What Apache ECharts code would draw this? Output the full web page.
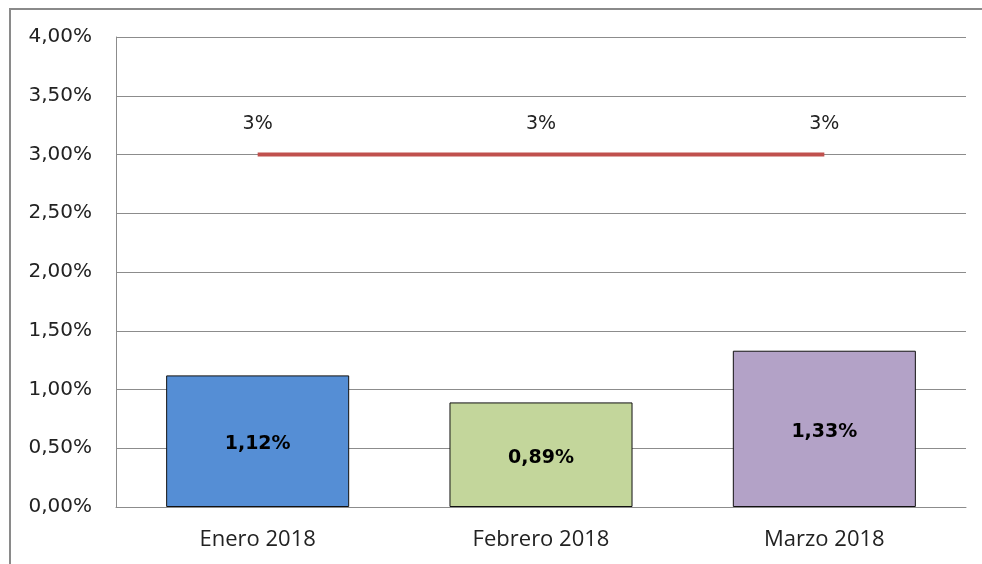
<!DOCTYPE html>
<html>
<head>
<meta charset="utf-8">
<script src="https://cdn.jsdelivr.net/npm/echarts@6/dist/echarts.min.js"></script>
<style>
html, body { margin: 0; padding: 0; background: #fff; }
#chart { width: 982px; height: 564px; }
</style>
</head>
<body>
<div id="chart"></div>
<script>
var categories = ['Enero 2018', 'Febrero 2018', 'Marzo 2018'];
var barValues = [1.12, 0.89, 1.33];
var targetValues = [3, 3, 3];
var barColors = ['#558ed5', '#c3d69b', '#b3a2c7'];

function fmtPct(v) {
	return v.toFixed(2).replace('.', ',') + '%';
}

var chart = echarts.init(document.getElementById('chart'));

var option = {
	animation: false,
	backgroundColor: '#fff',
	graphic: [{
		type: 'rect',
		shape: { x: 10, y: 9, width: 1000, height: 600 },
		style: { fill: 'none', stroke: '#8a8a8a', lineWidth: 2 },
		silent: true
	}],
	grid: { left: 116, right: 16, top: 37, bottom: 57 },
	xAxis: {
		type: 'category',
		data: categories,
		axisLine: { lineStyle: { color: '#8c8c8c', width: 1 } },
		axisTick: { show: false },
		axisLabel: {
			color: '#222',
			fontFamily: 'Open Sans',
			fontSize: 22,
			margin: 22
		}
	},
	yAxis: {
		type: 'value',
		min: 0,
		max: 4,
		interval: 0.5,
		axisLine: { show: true, lineStyle: { color: '#8c8c8c', width: 1 } },
		axisTick: { show: false },
		splitLine: { lineStyle: { color: '#8c8c8c', width: 1 } },
		axisLabel: {
			color: '#222',
			fontFamily: 'DejaVu Sans',
			fontSize: 20,
			margin: 24,
			formatter: fmtPct
		}
	},
	series: [{
		type: 'bar',
		barWidth: '64.6%',
		data: barValues.map(function (v, i) {
			return {
				value: v,
				itemStyle: { color: barColors[i], borderColor: '#111', borderWidth: 1 }
			};
		}),
		label: {
			show: true,
			position: 'inside',
			offset: [0, 3],
			color: '#000',
			fontFamily: 'DejaVu Sans',
			fontWeight: 'bold',
			fontSize: 19,
			formatter: function (p) { return fmtPct(p.value); }
		}
	}, {
		type: 'line',
		data: targetValues,
		symbol: 'circle',
		symbolSize: 1,
		itemStyle: { color: 'rgba(0,0,0,0)' },
		lineStyle: { color: '#c0504d', width: 4 },
		label: {
			show: true,
			position: 'top',
			distance: 20,
			color: '#222',
			fontFamily: 'DejaVu Sans',
			fontSize: 19,
			formatter: function (p) { return p.value + '%'; }
		}
	}]
};

chart.setOption(option);
</script>
</body>
</html>
